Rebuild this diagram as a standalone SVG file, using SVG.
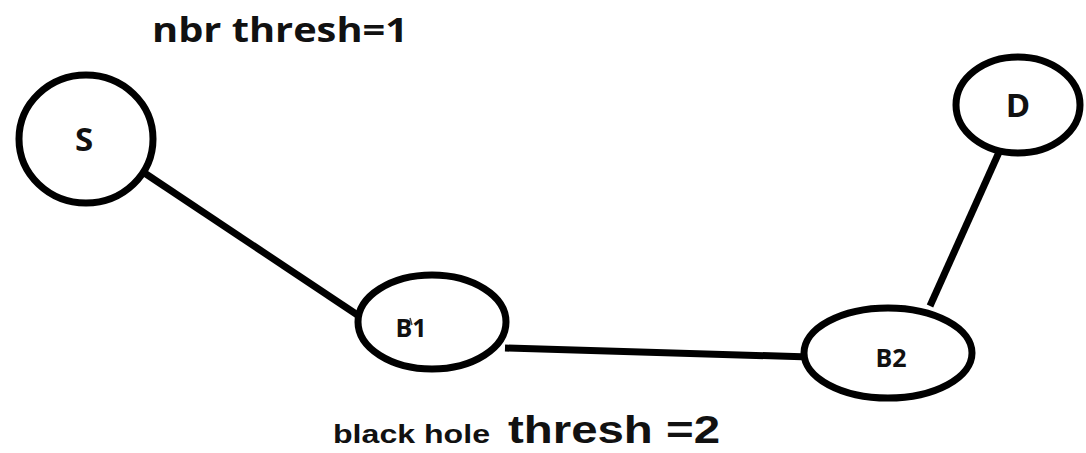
<svg xmlns="http://www.w3.org/2000/svg" width="1086" height="453" viewBox="0 0 1086 453">
<style>
.n{fill:#fff;stroke:#000;stroke-width:7}
.e{stroke:#000;stroke-width:7;fill:none}
.t{font-family:"Open Sans","Liberation Sans",sans-serif;font-weight:bold;fill:#111}
.b{font-family:"Liberation Sans",sans-serif;font-weight:bold;fill:#111}
</style>
<rect width="1086" height="453" fill="#fff"/>
<g id="connectors">
<line class="e" x1="140" y1="170" x2="362" y2="318"/>
<line class="e" x1="505" y1="348" x2="810" y2="357"/>
<line class="e" x1="930" y1="306" x2="1000" y2="150"/>
</g>
<g id="node-S"><ellipse class="n" cx="86" cy="139" rx="67" ry="64"/><text class="t" x="84" y="151" font-size="33" text-anchor="middle">S</text></g>
<g id="node-D"><ellipse class="n" cx="1018" cy="105" rx="62" ry="48"/><text class="t" x="1018" y="117" font-size="33" text-anchor="middle">D</text></g>
<g id="node-B1"><ellipse class="n" cx="432" cy="322" rx="74" ry="47"/><text class="t" x="411" y="337" font-size="25" text-anchor="middle">B1</text><path d="M410 318 L412 325" stroke="#444" stroke-width="1.5"/></g>
<g id="node-B2"><ellipse class="n" cx="888" cy="353" rx="84" ry="45"/><text class="t" x="891" y="367" font-size="25" text-anchor="middle">B2</text></g>
<text class="t" x="152" y="42" font-size="34" textLength="256" lengthAdjust="spacingAndGlyphs">nbr thresh=1</text>
<text class="b" x="333" y="443" font-size="26" textLength="157" lengthAdjust="spacingAndGlyphs">black hole</text>
<text class="b" x="508" y="443" font-size="38" textLength="212" lengthAdjust="spacingAndGlyphs">thresh =2</text>
</svg>
